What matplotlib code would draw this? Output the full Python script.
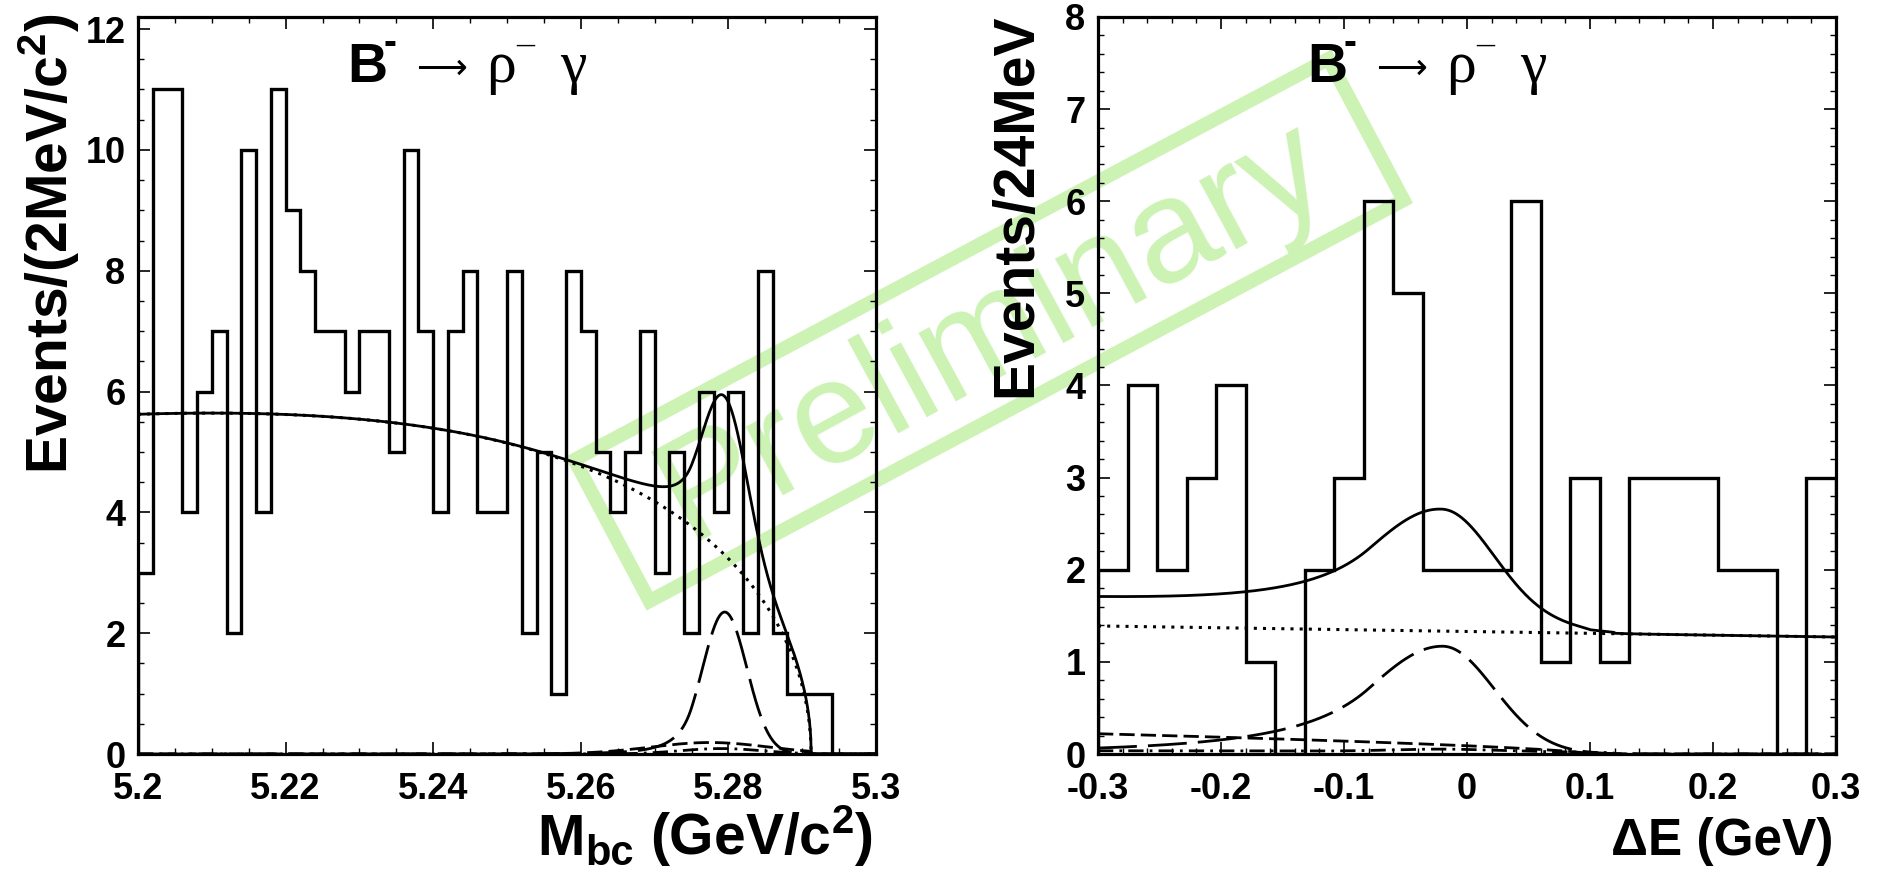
import numpy as np
import matplotlib
matplotlib.use("Agg")
import matplotlib.pyplot as plt
from matplotlib.ticker import MultipleLocator, FuncFormatter
from matplotlib.patches import Rectangle

# ---------------- data ----------------
# Mbc: 50 bins of 2 MeV/c^2 between 5.20 and 5.30 GeV/c^2
mbc_range = (5.20, 5.30)
mbc_counts = [3, 11, 11, 4, 6, 7, 2, 10, 4, 11,
              9, 8, 7, 7, 6, 7, 7, 5, 10, 7,
              4, 7, 8, 4, 4, 8, 2, 5, 1, 8,
              7, 5, 4, 5, 7, 3, 5, 2, 6, 4,
              6, 2, 8, 2, 1, 1, 1, 0, 0, 0]

# Delta E: 25 bins of 24 MeV between -0.3 and 0.3 GeV
de_range = (-0.30, 0.30)
de_counts = [2, 4, 2, 3, 4, 1, 0, 2, 3, 6, 5, 2, 2,
             2, 6, 1, 3, 1, 3, 3, 3, 2, 2, 0, 3]

# ---------------- fit components ----------------
# Mbc: ARGUS continuum (dotted)
argus_end, argus_shape, argus_norm = 5.2912, -15.9, 53.3
# Mbc: signal, Crystal Ball (long dashed)
mbc_sig = dict(mean=5.2795, sigma=0.0030, alpha=1.5, n=4.0, peak=2.35)
# Mbc: B-Bbar background (short dashed) and cross-feed (dash-dotted)
mbc_bb = dict(peak=0.19, mean=5.2775, sigma=0.008)
mbc_xf = dict(peak=0.09, mean=5.2790, sigma=0.0055)

# Delta E: linear continuum (dotted)
de_cont_const, de_cont_slope = 1.33, -0.20
# Delta E: signal, asymmetric Crystal Ball (long dashed)
de_sig = dict(mean=-0.020, sigma_l=0.060, sigma_r=0.042, alpha=1.0, n=3.0, peak=1.17)
# Delta E: feed-down background with kinematic edge (short dashed)
de_fd = dict(amp=0.22, start=-0.30, edge=0.10, power=0.65)
# Delta E: cross-feed (dash-dotted)
de_xf = dict(flat=0.035, start=-0.30, edge=0.12, power=0.2, peak=0.025, mean=-0.02, sigma=0.04)


def crystal_ball_t(t, alpha, n):
    a = (n / alpha) ** n * np.exp(-0.5 * alpha ** 2)
    b = n / alpha - alpha
    out = np.exp(-0.5 * t ** 2)
    tail = t < -alpha
    out[tail] = a * (b - t[tail]) ** (-n)
    return out


def argus(m):
    z = m / argus_end
    arg = np.clip(1.0 - z ** 2, 0.0, None)
    return argus_norm * z * np.sqrt(arg) * np.exp(argus_shape * arg)


def gauss(x, peak, mean, sigma):
    return peak * np.exp(-0.5 * ((x - mean) / sigma) ** 2)


def edge_shape(x, amp, start, edge, power):
    u = np.clip((edge - x) / (edge - start), 0.0, None)
    return amp * u ** power


# ---------------- style ----------------
plt.rcParams["font.family"] = ["Liberation Sans", "DejaVu Sans"]
plt.rcParams["font.weight"] = "bold"
plt.rcParams["mathtext.fontset"] = "custom"
plt.rcParams["mathtext.rm"] = "Liberation Sans:bold"
plt.rcParams["mathtext.it"] = "Liberation Sans:bold"
plt.rcParams["mathtext.bf"] = "Liberation Sans:bold"
plt.rcParams["mathtext.default"] = "rm"

W, H = 1879, 872
fig = plt.figure(figsize=(W / 100, H / 100), dpi=100)
fig.patch.set_facecolor("white")
renderer = fig.canvas.get_renderer()

green = "#ccf2b4"
serif = ["Liberation Serif", "DejaVu Serif", "DejaVu Sans"]


def inch(xpx, ypx_top):
    return xpx / 100.0, (H - ypx_top) / 100.0


def axes_rect(left_px, top_px, w_px, h_px):
    return [left_px / W, (H - top_px - h_px) / H, w_px / W, h_px / H]


ax1 = fig.add_axes(axes_rect(138, 17, 738, 737))
ax2 = fig.add_axes(axes_rect(1098, 17, 738, 737))

fmt = FuncFormatter(lambda v, p: f"{round(v, 6) + 0.0:g}")


def style_axes(ax, xmaj, xmin, ymaj, ymin):
    ax.set_facecolor("none")
    for s in ax.spines.values():
        s.set_linewidth(2.3)
    ax.xaxis.set_major_locator(MultipleLocator(xmaj))
    ax.xaxis.set_minor_locator(MultipleLocator(xmin))
    ax.yaxis.set_major_locator(MultipleLocator(ymaj))
    ax.yaxis.set_minor_locator(MultipleLocator(ymin))
    ax.xaxis.set_major_formatter(fmt)
    ax.yaxis.set_major_formatter(fmt)
    ax.tick_params(which="both", direction="in", top=True, right=True,
                   labelsize=26)
    ax.tick_params(which="major", length=8.6, width=1.2)
    ax.tick_params(which="minor", length=4.3, width=1.0)
    ax.tick_params(axis="x", which="major", pad=13)
    ax.tick_params(axis="y", which="major", pad=9)


def decay_title(ax):
    def put(s, dx, dy, **kw):
        return ax.annotate(s, xy=(0, 1), xycoords="axes fraction",
                           xytext=(dx * 0.72, -dy * 0.72), textcoords="offset points",
                           annotation_clip=False, **kw)
    put("B", 209, 65, fontsize=40, fontweight="bold", ha="left", va="baseline")
    put("-", 252, 27, fontsize=28, fontweight="bold", ha="center", va="center")
    # long arrow, sized so that it spans 51 px starting 279 px from the axes edge
    arrow = put("\u27f6", 279, 52, fontsize=24, family=["DejaVu Sans"],
                fontweight="normal", ha="left", va="center")
    width = arrow.get_window_extent(renderer).width
    arrow.set_fontsize(24 * 51.0 / width)
    put("\u03c1", 363, 65, fontsize=43, family=serif, fontweight="normal",
        ha="center", va="baseline")
    put("\u2013", 387, 28, fontsize=26, family=serif, fontweight="normal",
        ha="center", va="center")
    put("\u03b3", 435, 65, fontsize=43, family=serif, fontweight="normal",
        ha="center", va="baseline")


lw_hist, lw_fit = 2.4, 2.0
ls_long = (0, (14, 4))
ls_short = (0, (5.5, 2.2))
ls_dashdot = (0, (5.5, 2.2, 1, 2.2))
ls_dot = (0, (1, 2))

# ---------------- left panel: Mbc ----------------
mbc_edges = np.linspace(mbc_range[0], mbc_range[1], len(mbc_counts) + 1)
ax1.stairs(mbc_counts, mbc_edges, color="black", linewidth=lw_hist, baseline=0)

m = np.linspace(mbc_range[0], mbc_range[1], 2000)
cont = argus(m)
inside = m < argus_end
sig = mbc_sig["peak"] * crystal_ball_t((m - mbc_sig["mean"]) / mbc_sig["sigma"],
                                       mbc_sig["alpha"], mbc_sig["n"])
bb = gauss(m, **mbc_bb) * inside
xf = gauss(m, **mbc_xf) * inside
total = cont + sig + bb + xf

ax1.plot(m, total, color="black", lw=lw_fit)
ax1.plot(m, cont, color="black", lw=2.2, linestyle=ls_dot)
ax1.plot(m, sig, color="black", lw=lw_fit, linestyle=ls_long)
ax1.plot(m, bb, color="black", lw=lw_fit, linestyle=ls_short)
ax1.plot(m, xf, color="black", lw=lw_fit, linestyle=ls_dashdot)

ax1.set_xlim(*mbc_range)
ax1.set_ylim(0, 12.2)
style_axes(ax1, 0.02, 0.005, 2, 0.5)
decay_title(ax1)

# ---------------- right panel: Delta E ----------------
de_edges = np.linspace(de_range[0], de_range[1], len(de_counts) + 1)
ax2.stairs(de_counts, de_edges, color="black", linewidth=lw_hist, baseline=0)

x = np.linspace(de_range[0], de_range[1], 2000)
cont2 = de_cont_const + de_cont_slope * x
t = np.where(x < de_sig["mean"], (x - de_sig["mean"]) / de_sig["sigma_l"],
             (x - de_sig["mean"]) / de_sig["sigma_r"])
sig2 = de_sig["peak"] * crystal_ball_t(t, de_sig["alpha"], de_sig["n"])
fd2 = edge_shape(x, de_fd["amp"], de_fd["start"], de_fd["edge"], de_fd["power"])
xf2 = (edge_shape(x, de_xf["flat"], de_xf["start"], de_xf["edge"], de_xf["power"])
       + gauss(x, de_xf["peak"], de_xf["mean"], de_xf["sigma"]))
total2 = cont2 + sig2 + fd2 + xf2

ax2.plot(x, total2, color="black", lw=lw_fit)
ax2.plot(x, cont2, color="black", lw=2.2, linestyle=ls_dot)
ax2.plot(x, sig2, color="black", lw=lw_fit, linestyle=ls_long)
ax2.plot(x, fd2, color="black", lw=lw_fit, linestyle=ls_short)
ax2.plot(x, xf2, color="black", lw=lw_fit, linestyle=ls_dashdot)

ax2.set_xlim(*de_range)
ax2.set_ylim(0, 8)
style_axes(ax2, 0.1, 0.02, 1, 0.2)
decay_title(ax2)

# ---------------- axis titles ----------------
def fig_label(s, xpx, ypx, size, rot=0):
    return fig.text(*inch(xpx, ypx), s, transform=fig.dpi_scale_trans,
                    fontsize=size, fontweight="bold", ha="right", va="baseline",
                    rotation=rot, rotation_mode="anchor")


def fig_label_pieces(pieces, right_px, base_px):
    """Right-aligned row of text pieces: (text, size, baseline drop, gap after)."""
    xr = right_px
    for s, size, drop, gap in reversed(pieces):
        xr -= gap
        txt = fig_label(s, xr, base_px + drop, size)
        xr = txt.get_window_extent(renderer).x0


fig_label(r"Events/(2MeV/c$^{2}$)", 68, 13, 41, rot=90)
fig_label("Events/24MeV", 1031, 13, 41, rot=90)
fig_label_pieces([("M", 41, 0, 1), ("bc", 30, 10, 16), (r"(GeV/c$^{2}$)", 41, 0, 0)],
                 873, 855)
fig_label("\u0394E (GeV)", 1833, 855, 37)

# ---------------- watermark ----------------
cx, cy = inch(989, 330)
rw, rh = 8.54, 1.60
frame = Rectangle((cx - rw / 2, cy - rh / 2), rw, rh, angle=28,
                  rotation_point="center", transform=fig.dpi_scale_trans,
                  fill=False, edgecolor=green, linewidth=10, zorder=-1)
fig.patches.append(frame)
fig.text(*inch(986, 318), "Preliminary", transform=fig.dpi_scale_trans,
         fontsize=106, fontweight="normal", color=green, rotation=28.5,
         rotation_mode="anchor", ha="center", va="center_baseline", zorder=-1)

fig.savefig("out.png", dpi=100)
